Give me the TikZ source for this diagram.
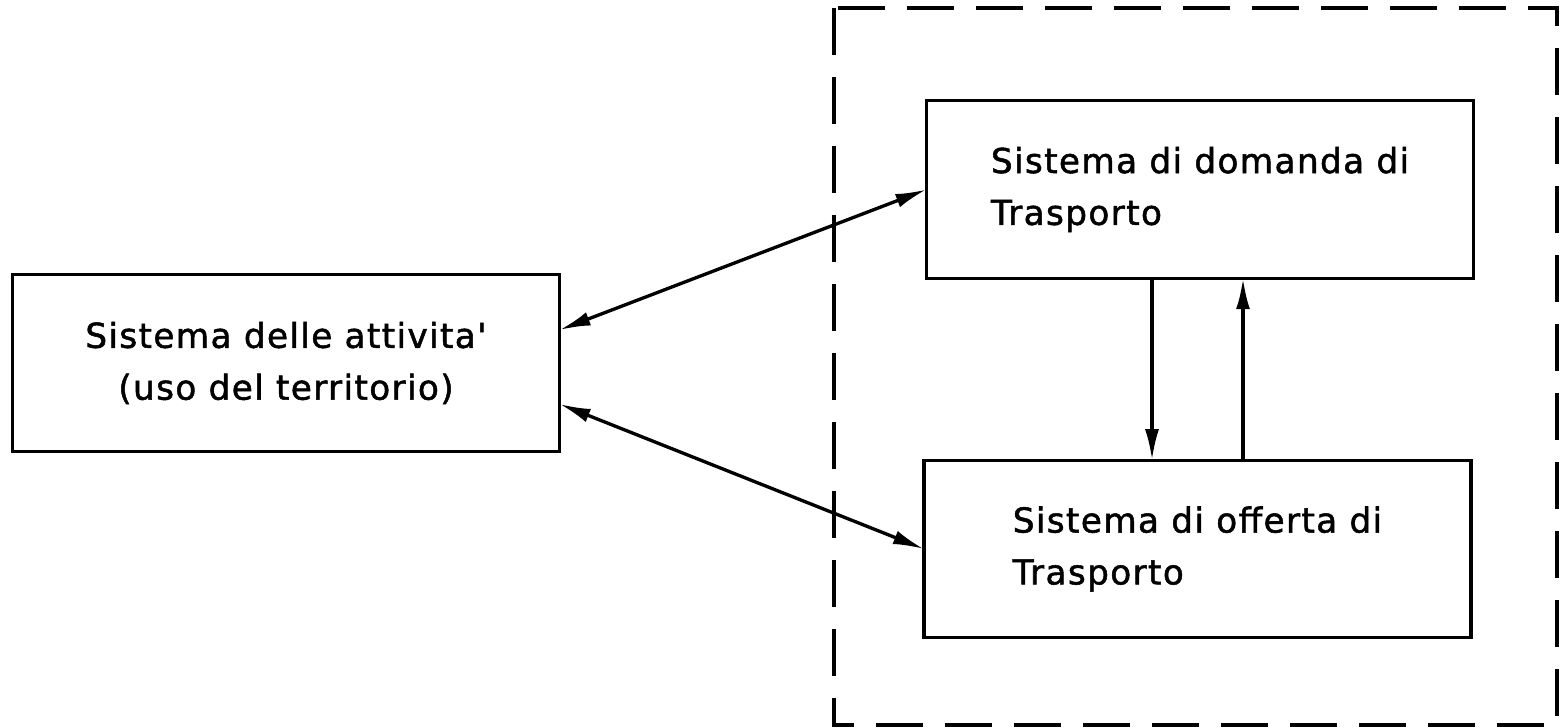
\documentclass[tikz,border=0pt]{standalone}
\usepackage{fontspec}
\newfontfamily\cadfont[LetterSpace=4, FakeBold=1.5]{DejaVu Sans}
\usetikzlibrary{arrows.meta, positioning, calc}

\begin{document}
\begin{tikzpicture}[
    every node/.style={font=\cadfont\fontsize{19.5}{29.5}\selectfont},
    sysbox/.style={draw, line width=1.9pt, minimum width=10.94cm,
        minimum height=3.55cm, inner sep=0pt, outer sep=0pt},
    flow/.style={line width=1.9pt,
        {Latex[length=0.62cm, width=0.28cm]}-{Latex[length=0.62cm, width=0.28cm]}},
    oneway/.style={line width=1.9pt, -{Latex[length=0.62cm, width=0.28cm]}},
    frame/.style={line width=1.9pt, dash pattern=on 0.94cm off 0.44cm},
]

\useasboundingbox (0,0) rectangle (31.2,-14.56);

% ---------------------------------------------------------------- transport side
\draw[frame] (16.68,-0.16) rectangle (31.14,-14.5);

% ---------------------------------------------------------------- boxes
\node[sysbox, align=center] (att) at (5.72,-7.26)
    {Sistema delle attivita'\\(uso del territorio)};
\node[sysbox, align=left] (dom) at (24.0,-3.79)
    {Sistema di domanda di\\Trasporto};
\node[sysbox, align=left] (off) at (23.95,-10.98)
    {Sistema di offerta di\\Trasporto};

% ---------------------------------------------------------------- links
\draw[flow] ([yshift=0.66cm]att.east) -- (dom.west);
\draw[flow] ([yshift=-0.82cm]att.east) -- (off.west);

\coordinate (down) at ([xshift=-0.96cm]dom.south);
\coordinate (up) at ([xshift=0.86cm]dom.south);
\draw[oneway] (down) -- (down |- off.north);
\draw[oneway] (up |- off.north) -- (up);

\end{tikzpicture}
\end{document}
